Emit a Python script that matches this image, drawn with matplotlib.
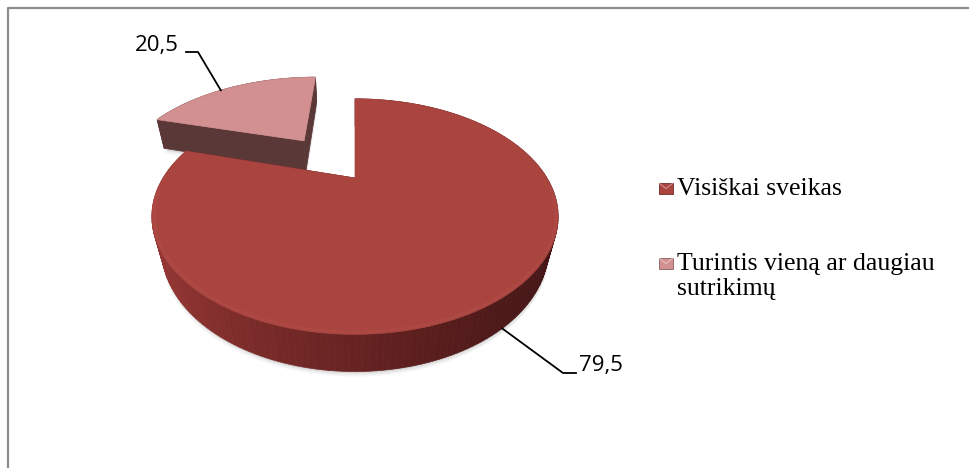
import numpy as np
import matplotlib.pyplot as plt
from matplotlib.patches import Polygon, Rectangle
from matplotlib.colors import to_rgb

# data
categories = ["Visiškai sveikas", "Turintis vieną ar daugiau\nsutrikimų"]
values = [79.5, 20.5]
labels = ["79,5", "20,5"]
top_colors = ["#a9443f", "#d39090"]
side_colors = ["#6a2424", "#5a3838"]

# 3d projection (pixel space)
cx, cy = 355.0, 178.0
f, D = 490.0, 2.553
elev = np.radians(33.2)
s, c = np.sin(elev), np.cos(elev)
h = 0.21
explode = [0.0, 0.5]


def proj(X, Y, Z):
    dep = D + Y * c - Z * s
    u = X
    v = Y * s + Z * c
    return cx + f * u / dep, cy - f * v / dep


def mix(a, b, t):
    a, b = np.array(to_rgb(a)), np.array(to_rgb(b))
    return tuple(a + (b - a) * t)


fig = plt.figure(figsize=(9.69, 4.68), dpi=100)
ax = fig.add_axes([0, 0, 1, 1])
ax.set_xlim(0, 969)
ax.set_ylim(468, 0)
ax.axis("off")

# frame
ax.plot([8, 8, 969], [468, 7.5, 7.5], color="#8c8c8c", lw=1.6, solid_capstyle="butt", zorder=1)

tot = sum(values)
starts = []
a0 = 90.0
for v in values:
    span = 360.0 * v / tot
    starts.append((a0, a0 - span))
    a0 -= span


def draw_slice(i, z0):
    t1, t2 = starts[i]
    mid = np.radians((t1 + t2) / 2)
    ox, oy = explode[i] * np.cos(mid), explode[i] * np.sin(mid)
    th = np.radians(np.linspace(t1, t2, 200))
    X = ox + np.cos(th)
    Y = oy + np.sin(th)
    # soft shadow below the slice
    for dx, dy, al in [(0, 5, 0.10), (1, 3, 0.15), (0, 1.5, 0.2)]:
        bot = [proj(x, y, -h) for x, y in zip(X, Y)] + [proj(ox, oy, -h)]
        bot = [(px + dx, py + dy) for px, py in bot]
        ax.add_patch(Polygon(bot, closed=True, fc="#9a9a9a", ec="none", alpha=al, zorder=z0 - 0.5))
    # outer wall, segment by segment
    for k in range(len(th) - 1):
        p = [proj(X[k], Y[k], 0), proj(X[k + 1], Y[k + 1], 0),
             proj(X[k + 1], Y[k + 1], -h), proj(X[k], Y[k], -h)]
        if i == 0:
            tt = np.clip((p[0][0] - 160) / 400.0, 0, 1)
            col = mix("#933532", "#451616", tt ** 0.8)
        else:
            col = side_colors[i]
        ax.add_patch(Polygon(p, closed=True, fc=col, ec=col, lw=0.5, zorder=z0))
    # radial faces
    for t in (t1, t2):
        tr = np.radians(t)
        ex, ey = ox + np.cos(tr), oy + np.sin(tr)
        p = [proj(ox, oy, 0), proj(ex, ey, 0), proj(ex, ey, -h), proj(ox, oy, -h)]
        col = side_colors[i] if i == 1 else "#5a1e1e"
        ax.add_patch(Polygon(p, closed=True, fc=col, ec=col, lw=0.5, zorder=z0 + 0.5))
    # top face
    pts = [proj(ox, oy, 0)] + [proj(x, y, 0) for x, y in zip(X, Y)]
    ax.add_patch(Polygon(pts, closed=True, fc=top_colors[i], ec=top_colors[i], lw=0.5, zorder=z0 + 1))
    # soft bevel highlight on the front rim
    if i == 0:
        fr = np.radians(np.linspace(-175, -5, 150))
        rim = [proj(ox + 0.99 * np.cos(a), oy + 0.99 * np.sin(a), 0) for a in fr]
        ax.plot([p[0] for p in rim], [p[1] for p in rim], color="#b4504b", lw=1.8, alpha=0.45,
                solid_capstyle="round", zorder=z0 + 1.2)
    return ox, oy, mid


# small slice first (behind), then main
ox1, oy1, mid1 = draw_slice(1, 2)
ox0, oy0, mid0 = draw_slice(0, 5)

# data labels with leader lines
ax_, ay_ = proj(ox1 + np.cos(mid1 + 0.08), oy1 + np.sin(mid1 + 0.08), 0)
ax.plot([186, 198, ax_], [52, 52, ay_], color="black", lw=1.3, zorder=10)
ax.text(179, 46, labels[1], ha="right", va="center", fontsize=16, family="Open Sans", zorder=10)

bx, by = proj(ox0 + np.cos(mid0), oy0 + np.sin(mid0), -h)
ax.plot([bx, 563, 576], [by, 373, 373], color="black", lw=1.3, zorder=10)
ax.text(579, 366, labels[0], ha="left", va="center", fontsize=16, family="Open Sans", zorder=10)

# legend
leg_y = [188, 263]
for i, name in enumerate(categories):
    y = leg_y[i]
    ax.add_patch(Rectangle((659, y - 5), 14, 11, fc=top_colors[i], ec=mix(top_colors[i], "#000000", 0.35), lw=0.6, zorder=10))
    ax.plot([659.5, 666, 672.5], [y - 4.5, y + 0.5, y - 4.5], color=mix(top_colors[i], "#ffffff", 0.4), lw=0.8, zorder=11)
    ax.text(677, y - 10, name, ha="left", va="top", fontsize=18.5, family="Liberation Serif",
            linespacing=1.15, zorder=10)

fig.savefig("out.png", dpi=100)
